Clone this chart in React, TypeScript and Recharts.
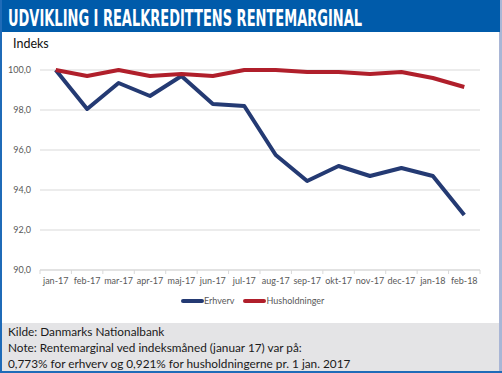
import React from 'react';
import { LineChart, Line, XAxis, YAxis, CartesianGrid, Legend } from 'recharts';

const months = ['jan-17', 'feb-17', 'mar-17', 'apr-17', 'maj-17', 'jun-17', 'jul-17', 'aug-17', 'sep-17', 'okt-17', 'nov-17', 'dec-17', 'jan-18', 'feb-18'];
const erhverv = [100, 98.05, 99.35, 98.7, 99.7, 98.3, 98.2, 95.75, 94.45, 95.2, 94.7, 95.1, 94.7, 92.75];
const husholdninger = [100, 99.7, 100, 99.7, 99.8, 99.7, 100, 100, 99.9, 99.9, 99.8, 99.9, 99.6, 99.15];
const yTicks = [90, 92, 94, 96, 98, 100];

const seriesNames = ['Erhverv', 'Husholdninger'];
const seriesColors = ['#243a73', '#b01f2b'];

const titleText = 'UDVIKLING I REALKREDITTENS RENTEMARGINAL';
const unitLabel = 'Indeks';
const footerLines = [
  'Kilde: Danmarks Nationalbank',
  'Note: Rentemarginal ved indeksmåned (januar 17) var på:',
  '0,773% for erhverv og 0,921% for husholdningerne pr. 1 jan. 2017',
];

const data = months.map((m, i) => ({ month: m, erhverv: erhverv[i], husholdninger: husholdninger[i] }));

const FONT = 'Lato, "Open Sans", sans-serif';

const XTick = (props: any) => {
  const { x, y, payload, index, visibleTicksCount } = props;
  const off = payload && payload.offset != null ? payload.offset : 0;
  return (
    <g>
      <line x1={x - off} x2={x - off} y1={y - 8} y2={y - 4} stroke="#d9d9d9" />
      {index === visibleTicksCount - 1 && (
        <line x1={x + off} x2={x + off} y1={y - 8} y2={y - 4} stroke="#d9d9d9" />
      )}
      <text x={x} y={y} dy="0.71em" textAnchor="middle" fontSize={9} fill="#595959" fontFamily={FONT}>
        {payload.value}
      </text>
    </g>
  );
};

const LegendContent = (props: any) => {
  const { payload } = props;
  return (
    <div style={{ display: 'flex', alignItems: 'center', fontFamily: FONT, fontSize: 9, color: '#595959' }}>
      {(payload || []).map((p: any, i: number) => (
        <div key={i} style={{ display: 'flex', alignItems: 'center', marginRight: i === 0 ? 9 : 0 }}>
          <svg width={23} height={6} style={{ display: 'block' }}>
            <line x1={2} x2={21} y1={3} y2={3} stroke={p.color} strokeWidth={4} strokeLinecap="round" />
          </svg>
          <span style={{ marginLeft: 0 }}>{p.value}</span>
        </div>
      ))}
    </div>
  );
};

export default function App() {
  return (
    <div style={{ position: 'absolute', left: 0, top: 0, width: 502, height: 373, background: '#ffffff', overflow: 'hidden' }}>
      <svg width={502} height={373} style={{ position: 'absolute', left: 0, top: 0 }}>
        <rect x={0} y={0} width={500} height={32} fill="#005baa" />
        <g transform="translate(8,26) scale(1,1.4)">
          <text
            x={0}
            y={0}
            fontFamily='"DejaVu Sans Condensed", "DejaVu Sans", sans-serif'
            fontWeight="bold"
            fontSize={16}
            fill="#ffffff"
            textLength={354}
            lengthAdjust="spacingAndGlyphs"
          >
            {titleText}
          </text>
        </g>
        <rect x={0} y={323} width={500} height={48} fill="#e4e4e6" />
        <rect x={0} y={0} width={2} height={373} fill="#1f6bb8" />
        <rect x={499} y={32} width={3} height={341} fill="#a9b6d6" />
        <rect x={500} y={0} width={2} height={32} fill="#a9b6d6" />
        <rect x={0} y={371} width={502} height={2} fill="#1f6bb8" />
      </svg>
      <div style={{ position: 'absolute', left: 13, top: 36, fontFamily: FONT, fontSize: 12.5, color: '#111' }}>{unitLabel}</div>
      <div style={{ position: 'absolute', left: 0, top: 0 }}>
        <LineChart width={502} height={300} data={data} margin={{ top: 70, right: 22, bottom: 0, left: 0 }}>
          <CartesianGrid vertical={false} stroke="#d9d9d9" strokeWidth={1} />
          <XAxis
            dataKey="month"
            scale="band"
            height={30}
            tickLine={false}
            tickSize={4}
            tickMargin={4}
            axisLine={{ stroke: '#d9d9d9' }}
            tick={<XTick />}
            interval={0}
          />
          <YAxis
            domain={[90, 100]}
            ticks={yTicks}
            width={40}
            axisLine={false}
            tickLine={false}
            tickMargin={3}
            tick={{ fontSize: 9, fill: '#595959', fontFamily: FONT }}
            tickFormatter={(v: number) => v.toFixed(1).replace('.', ',')}
          />
          <Legend
            verticalAlign="middle"
            align="center"
            wrapperStyle={{ top: 295, left: 181, width: 'auto' }}
            content={<LegendContent />}
          />
          <Line dataKey="erhverv" name={seriesNames[0]} stroke={seriesColors[0]} strokeWidth={4} dot={false} isAnimationActive={false} strokeLinejoin="round" />
          <Line dataKey="husholdninger" name={seriesNames[1]} stroke={seriesColors[1]} strokeWidth={4} dot={false} isAnimationActive={false} strokeLinejoin="round" />
        </LineChart>
      </div>
      <div style={{ position: 'absolute', left: 8, top: 324, fontFamily: FONT, fontSize: 11.8, lineHeight: '16px', color: '#1a1a1a' }}>
        {footerLines.map((l, i) => (
          <div key={i}>{l}</div>
        ))}
      </div>
    </div>
  );
}
